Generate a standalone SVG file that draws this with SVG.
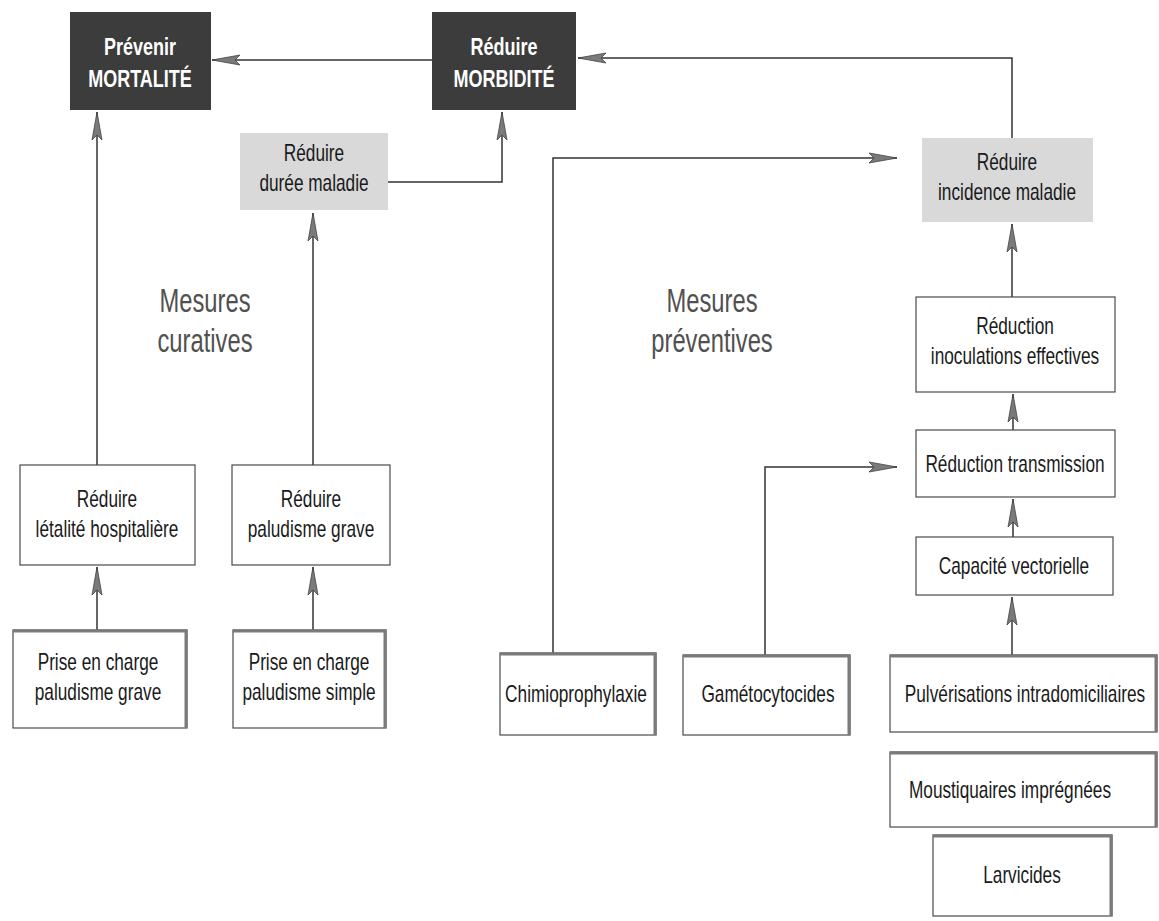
<svg xmlns="http://www.w3.org/2000/svg" width="1159" height="921" viewBox="0 0 1159 921">
<defs>
<style>
.bg{fill:#ffffff}
.box{fill:#ffffff;stroke:#4a4a4a;stroke-width:1.2}
.shadow{fill:none;stroke:#7a7a7a;stroke-width:3}
.dark{fill:#3c3c3c}
.grey{fill:#d9d9d9}
.t{font-family:"Liberation Sans",Arial,sans-serif;font-size:23px;fill:#1a1a1a;text-anchor:middle}
.tw{font-family:"Liberation Sans",Arial,sans-serif;font-size:24px;font-weight:bold;fill:#ffffff;text-anchor:middle}
.big{font-family:"Liberation Sans",Arial,sans-serif;font-size:33px;fill:#505050;text-anchor:middle}
.conn{fill:none;stroke:#333333;stroke-width:1.5;marker-end:url(#ah)}
</style>
<marker id="ah" markerUnits="userSpaceOnUse" markerWidth="30" markerHeight="14" refX="28" refY="6" orient="auto">
<path d="M0,1 L28,6 L0,11 L5,6 Z" fill="#7a7a7a" stroke="#444444" stroke-width="0.8"/>
</marker>
</defs>
<rect class="bg" x="0" y="0" width="1159" height="921"/>

<g id="connectors">
<path class="conn" d="M432,60 H212"/>
<path class="conn" d="M1012,138 V58 H578"/>
<path class="conn" d="M388,182 H502 V112"/>
<path class="conn" d="M97,465 V112"/>
<path class="conn" d="M313,465 V213"/>
<path class="conn" d="M97,630 V567"/>
<path class="conn" d="M313,630 V567"/>
<path class="conn" d="M553,653 V158 H897"/>
<path class="conn" d="M765,655 V467 H897"/>
<path class="conn" d="M1012,297 V224"/>
<path class="conn" d="M1013,430 V394"/>
<path class="conn" d="M1013,537 V499"/>
<path class="conn" d="M1012,655 V597"/>
</g>

<g id="mortalite">
<rect class="dark" x="70" y="12" width="141" height="98"/>
<text class="tw" transform="translate(140,55) scale(0.75,1)">Prévenir</text>
<text class="tw" transform="translate(140,87) scale(0.75,1)">MORTALITÉ</text>
</g>
<g id="morbidite">
<rect class="dark" x="432" y="12" width="144" height="98"/>
<text class="tw" transform="translate(504,55) scale(0.75,1)">Réduire</text>
<text class="tw" transform="translate(504,87) scale(0.75,1)">MORBIDITÉ</text>
</g>
<g id="duree">
<rect class="grey" x="240" y="133" width="148" height="77"/>
<text class="t" transform="translate(314,161) scale(0.75,1)">Réduire</text>
<text class="t" transform="translate(314,191) scale(0.75,1)">durée maladie</text>
</g>
<g id="incidence">
<rect class="grey" x="922" y="138" width="171" height="84"/>
<text class="t" transform="translate(1007,170) scale(0.75,1)">Réduire</text>
<text class="t" transform="translate(1007,200) scale(0.75,1)">incidence maladie</text>
</g>
<g id="inoculations">
<rect class="box" x="916" y="297" width="199" height="95"/>
<text class="t" transform="translate(1015,334) scale(0.75,1)">Réduction</text>
<text class="t" transform="translate(1015,364) scale(0.75,1)">inoculations effectives</text>
</g>
<g id="transmission">
<rect class="box" x="916" y="430" width="199" height="67"/>
<text class="t" transform="translate(1015,472) scale(0.75,1)">Réduction transmission</text>
</g>
<g id="capacite">
<rect class="box" x="916" y="537" width="197" height="58"/>
<text class="t" transform="translate(1014,574) scale(0.75,1)">Capacité vectorielle</text>
</g>
<g id="pulverisations">
<rect class="box" x="890" y="655" width="267" height="77"/>
<polyline class="shadow" points="890,656 1156,656 1156,732"/>
<text class="t" transform="translate(1025,702) scale(0.75,1)">Pulvérisations intradomiciliaires</text>
</g>
<g id="moustiquaires">
<rect class="box" x="890" y="752" width="267" height="75"/>
<polyline class="shadow" points="890,753 1156,753 1156,827"/>
<text class="t" transform="translate(1010,798) scale(0.75,1)">Moustiquaires imprégnées</text>
</g>
<g id="larvicides">
<rect class="box" x="933" y="835" width="179" height="81"/>
<polyline class="shadow" points="933,836 1111,836 1111,916"/>
<text class="t" transform="translate(1022,883) scale(0.75,1)">Larvicides</text>
</g>
<g id="letalite">
<rect class="box" x="20" y="465" width="175" height="100"/>
<text class="t" transform="translate(107,507) scale(0.75,1)">Réduire</text>
<text class="t" transform="translate(107,537) scale(0.75,1)">létalité hospitalière</text>
</g>
<g id="paludisme-grave">
<rect class="box" x="232" y="465" width="158" height="100"/>
<text class="t" transform="translate(311,507) scale(0.75,1)">Réduire</text>
<text class="t" transform="translate(311,537) scale(0.75,1)">paludisme grave</text>
</g>
<g id="prise-grave">
<rect class="box" x="13" y="630" width="174" height="98"/>
<polyline class="shadow" points="13,631 186,631 186,728"/>
<text class="t" transform="translate(98,670) scale(0.75,1)">Prise en charge</text>
<text class="t" transform="translate(98,700) scale(0.75,1)">paludisme grave</text>
</g>
<g id="prise-simple">
<rect class="box" x="233" y="630" width="153" height="98"/>
<polyline class="shadow" points="233,631 385,631 385,728"/>
<text class="t" transform="translate(309,670) scale(0.75,1)">Prise en charge</text>
<text class="t" transform="translate(309,700) scale(0.75,1)">paludisme simple</text>
</g>
<g id="chimio">
<rect class="box" x="500" y="653" width="156" height="82"/>
<polyline class="shadow" points="500,654 655,654 655,735"/>
<text class="t" transform="translate(576,702) scale(0.75,1)">Chimioprophylaxie</text>
</g>
<g id="gameto">
<rect class="box" x="683" y="655" width="167" height="80"/>
<polyline class="shadow" points="683,656 849,656 849,735"/>
<text class="t" transform="translate(768,702) scale(0.75,1)">Gamétocytocides</text>
</g>
<g id="label-curatives">
<text class="big" transform="translate(205,312) scale(0.72,1)">Mesures</text>
<text class="big" transform="translate(205,352) scale(0.72,1)">curatives</text>
</g>
<g id="label-preventives">
<text class="big" transform="translate(712,312) scale(0.72,1)">Mesures</text>
<text class="big" transform="translate(712,352) scale(0.72,1)">préventives</text>
</g>
</svg>
